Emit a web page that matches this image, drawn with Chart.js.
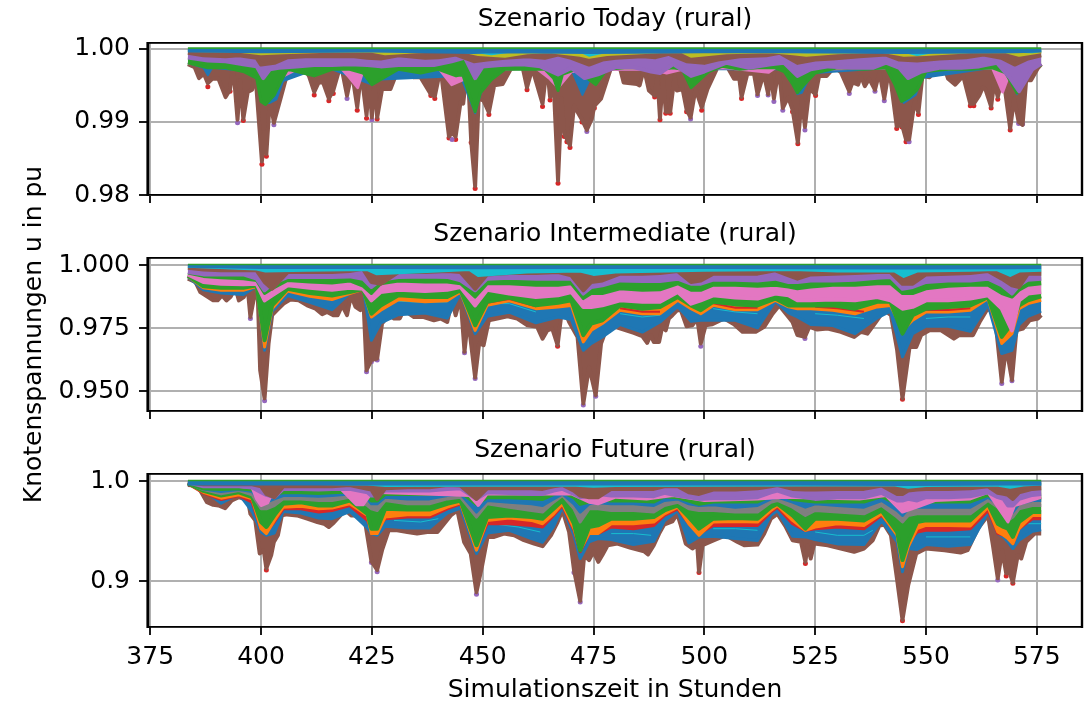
<!DOCTYPE html>
<html>
<head>
<meta charset="utf-8">
<title>Knotenspannungen rural</title>
<script src="https://cdn.jsdelivr.net/npm/chart.js@4"></script>
<style>
html, body { margin: 0; padding: 0; background: #fff; }
canvas { position: absolute; left: 0; top: 0; }
</style>
</head>
<body>
<canvas id="today" width="1091" height="703"></canvas>
<canvas id="intermediate" width="1091" height="703"></canvas>
<canvas id="future" width="1091" height="703"></canvas>
<script>
const xTicks = [375, 400, 425, 450, 475, 500, 525, 550, 575];
const yTicksToday = [0.98, 0.99, 1.00];
const yTicksIntermediate = [0.950, 0.975, 1.000];
const yTicksFuture = [0.9, 1.0];

// Szenario Today
const hoursTodayLow = [383.5,385,386,387.1,388,389,390.4,392,393,393.7,394.7,395.3,396,397,398,398.7,400.2,400.7,401.2,402,402.9,404.4,406,409.6,410.8,412,413,414,415.3,416.3,418,419.4,420.5,421.7,422.6,423.8,424.4,425,425.6,426.2,427.3,429.2,431,433,434.5,436,438.3,439.2,440.5,442.4,443.1,443.9,445,445.6,446.6,447.4,448.3,449.1,450.2,451.4,452.6,454.5,456.4,459,460,461.2,463.5,464.5,465.2,466.1,467,467.8,468.4,469.7,470.6,472.4,473.5,474.6,475.2,476.7,477.4,478.9,481,481.8,484.8,485.4,486.4,487.5,488.8,489.4,490,490.7,491.3,492.3,493.3,493.8,495.1,496,496.9,498,499.4,500.7,503,505.2,506.7,507.9,508.4,509.7,511.2,512,513.4,514.4,514.9,515.7,516.8,517.7,518.9,519.9,521.1,522,522.7,523.7,525.1,525.9,527.6,529.3,530.8,532.7,533.4,534.7,535.3,536.2,537.2,538.5,539.5,540.6,541.7,543.4,544.6,545.5,546.2,547.4,548.3,549.2,550.8,552.3,554.2,555,556.6,558.4,560,560.8,562,562.8,563.4,564.7,565.4,566.2,567.4,569,569.9,570.9,571.8,572.6,573.7,575.2,576];
const todayLow = [.9979,.9975,.9960,.9966,.9953,.9959,.9959,.9934,.9944,.9977,.9903,.9957,.9904,.9941,.9944,.9968,.9846,.9886,.9856,.9932,.9899,.9932,.9968,.9975,.9963,.9941,.9954,.9954,.9932,.9943,.9979,.9936,.9968,.9920,.9968,.9909,.9954,.9906,.9954,.9906,.9945,.9945,.9973,.9968,.9961,.9961,.9938,.9935,.9973,.9880,.9885,.9880,.9927,.9925,.9977,.9874,.9812,.9932,.9929,.9913,.9950,.9952,.9973,.9975,.9947,.9973,.9925,.9977,.9934,.9941,.9820,.9932,.9884,.9868,.9922,.9903,.9889,.9904,.9922,.9932,.9945,.9973,.9973,.9954,.9952,.9950,.9973,.9943,.9936,.9963,.9905,.9963,.9914,.9914,.9963,.9943,.9945,.9917,.9906,.9945,.9920,.9945,.9975,.9975,.9959,.9959,.9934,.9966,.9966,.9938,.9966,.9938,.9966,.9932,.9973,.9919,.9934,.9917,.9872,.9932,.9893,.9945,.9938,.9963,.9963,.9975,.9968,.9942,.9954,.9951,.9963,.9949,.9959,.9944,.9968,.9932,.9973,.9894,.9896,.9876,.9876,.9927,.9913,.9963,.9961,.9973,.9973,.9959,.9951,.9963,.9925,.9925,.9936,.9947,.9945,.9921,.9954,.9934,.9963,.9891,.9932,.9900,.9896,.9957,.9957,.9973,.9979];
const hoursTodayRedTips = [388,393,396,400.2,401.2,412,415.3,416.3,421.7,423.8,426.2,438.3,439.2,442.4,443.9,447.4,448.3,451.4,460,463.5,465.2,467,468.4,469,469.7,472.4,475.2,488.8,490,491.3,492.3,496,499.4,508.4,519.9,521.1,525.1,543.4,544.6,545.5,548.3,560,560.8,564.7,566.2,569];
const todayRedTips = [.9948,.9942,.9902,.9842,.9853,.9937,.9929,.9939,.9916,.9905,.9904,.9936,.9932,.9878,.9876,.9872,.9809,.9910,.9944,.9921,.9930,.9816,.9880,.9873,.9865,.9900,.9919,.9934,.9903,.9912,.9912,.9914,.9916,.9932,.9914,.9870,.9936,.9891,.9893,.9873,.9910,.9922,.9922,.9919,.9931,.9889];
const hoursTodayPurpleTips = [394.7,402.9,419.4,425,443.1,473.5,496.9,512,514.4,515.7,517.7,522.7,532.7,538.5,540.6,546.2,570.9,571.8];
const todayPurpleTips = [.9899,.9896,.9932,.9903,.9876,.9887,.9904,.9936,.9937,.9928,.9916,.9889,.9939,.9942,.9929,.9873,.9898,.9897];
const hoursTodayBlue = [383.5,387,388,389,396,399,400.5,402,403.5,405,410,415,416,425,427,445,448.3,449.5,451,455,470,472.5,474,476,478,519,521,522,523.5,525,542,545,547.7,549,565,569.5,570.5,572,576];
const todayBlue = [.9981,.9974,.9964,.9974,.9970,.9960,.9926,.9926,.9931,.9956,.9967,.9970,.9972,.9951,.9958,.9963,.9912,.9938,.9958,.9972,.9972,.9937,.9956,.9958,.9972,.9972,.9938,.9940,.9958,.9967,.9974,.9926,.9937,.9960,.9974,.9967,.9938,.9968,.9978];
const hoursTodayPink = [383.5,396,400,404,408,414,418,419.5,421.8,423,430,440,443,446,448,454,462,465,467,470,480,488,491.5,495,505,514.5,516,525,540,552,565,567.3,569,576];
const todayPink = [.9981,.9974,.9969,.9960,.9972,.9974,.9974,.9964,.9947,.9970,.9974,.9974,.9951,.9959,.9963,.9972,.9974,.9960,.9947,.9969,.9972,.9972,.9967,.9972,.9974,.9968,.9974,.9972,.9974,.9972,.9974,.9941,.9969,.9979];
const hoursTodayGreen = [383.5,388,392,396,399,400,401,403,404.5,406,412,416,420,423,425,427,431,436,440,444,445.5,447,448.3,449.5,452,455,460,464,466,467,468,471,474,475.5,478,482,486,490,493,495,497,499,501,504,508,512,516,518,520,521,522.5,525,530,536,541,543,544.5,546,548,550,555,560,565,568,570.5,572,576];
const todayGreen = [.9981,.9974,.9974,.9969,.9960,.9928,.9924,.9937,.9956,.9972,.9963,.9972,.9972,.9967,.9951,.9958,.9972,.9967,.9972,.9963,.9965,.9937,.9914,.9940,.9958,.9972,.9972,.9972,.9960,.9943,.9965,.9972,.9958,.9951,.9972,.9974,.9974,.9972,.9974,.9972,.9947,.9958,.9969,.9976,.9972,.9974,.9974,.9969,.9951,.9940,.9951,.9967,.9974,.9972,.9974,.9951,.9928,.9933,.9944,.9969,.9972,.9972,.9974,.9967,.9940,.9969,.9978];
const hoursTodayPurple = [383.5,388,392,396,399,400.5,402,404,408,412,416,420,424,427,431,435,439,443,446,448.3,450,454,459,463,467,470,473,476,480,484,488,490,493,497,500,505,510,515,518,521,524,528,533,538,541,544,546,549,553,558,562,566,569,571,574,576];
const todayPurple = [.9988,.9984,.9983,.9979,.9976,.9960,.9972,.9974,.9976,.9978,.9978,.9979,.9978,.9976,.9978,.9978,.9978,.9983,.9988,.9960,.9976,.9978,.9979,.9976,.9965,.9974,.9960,.9965,.9975,.9975,.9969,.9967,.9979,.9963,.9969,.9981,.9974,.9979,.9981,.9963,.9972,.9976,.9974,.9974,.9981,.9974,.9960,.9969,.9974,.9974,.9976,.9981,.9960,.9942,.9972,.9980];
const hoursTodayUpper = [383.5,387,392,395,399,400,403,406,410,414,418,421,424,427,431,437,440,444,448,451,455,460,464,467,470,474,477,480,486,489,492,496,500,503,508,514,517,521,525,529,535,541,544,548,553,559,563,567,570,573,576];
const todayUpper = [.99945,.99913,.99900,.99913,.99877,.99785,.99808,.99886,.99900,.99900,.99900,.99900,.99877,.99868,.99913,.99877,.99886,.99922,.99831,.99854,.99877,.99900,.99877,.99922,.99877,.99785,.99854,.99877,.99900,.99886,.99932,.99831,.99808,.99854,.99900,.99913,.99945,.99808,.99854,.99868,.99900,.99922,.99854,.99840,.99868,.99886,.99922,.99877,.99785,.99868,.99913];
const hoursTodayOlive = [383.5,395,400,405,415,425,428,435,445,449,455,460,465,472,474,478,490,495,497,505,515,520,523,530,540,545,550,560,568,571,576];
const todayOlive = [.99977,.99968,.99932,.99945,.99968,.99968,.99932,.99959,.99977,.99922,.99900,.99945,.99959,.99913,.99886,.99922,.99959,.99959,.99900,.99945,.99959,.99932,.99913,.99945,.99968,.99913,.99922,.99959,.99959,.99913,.99959];
const hoursTodayCyan = [383.5,420,448,452,456,472,474,478,500,519,523,545,548,552,570,574,576];
const todayCyan = [.99982,.99982,.99968,.99932,.99968,.99968,.99913,.99968,.99982,.99968,.99959,.99968,.99922,.99968,.99968,.99959,.99982];
const hoursTodayTop = [383.5,400,425,448,452,475,500,521,545,570,576];
const todayTop = [.9997,.9996,.9997,.9995,.9996,.9995,.9996,.9996,.9995,.9996,.9997];
const hoursTodayEdge = [383.5,576];
const todayEdge = [1.0001,1.0001];

// Szenario Intermediate
const hoursInterLow = [383.5,385.2,386.3,387.8,389.2,390.2,391.2,392.2,393.1,394.2,395,396.1,397,397.6,398.3,399.2,399.8,400.8,401.7,402.5,403.6,405.1,406.6,408.5,410.4,412.3,413.8,414.9,416.3,417.3,418.3,419.4,420.3,421.3,422.4,423,423.8,424.9,426.2,427.3,428.8,430,431.3,432.2,434.5,436.7,439,440.5,442,443.1,443.9,445,445.9,446.7,448.3,449.2,450.2,451.4,453.3,455.6,457.8,460.1,462.3,463.5,464.6,465.7,466.9,468,469.5,471.4,472.7,474,475.5,476.7,477.8,479.3,480.4,484.1,486,487.1,487.9,488.6,489.8,490.5,491.3,492,492.8,493.9,494.7,496,497.3,498.4,499.2,500.3,501.8,504.5,506.7,508.6,510.1,511.6,513.5,515.4,516.9,518.4,519.9,521,522.7,523.7,525.5,527.8,530.8,533.8,535.3,536.8,538.7,540.6,542.1,543.5,544.7,546.3,547.8,548.9,550.8,553.4,556.3,557.5,559,560.6,562.1,563.9,565.5,567.1,568.1,569.4,570.4,571.9,573.4,575.3,576];
const interLow = [.9946,.9933,.9893,.9876,.9860,.9860,.9880,.9860,.9873,.9910,.9860,.9873,.9906,.9794,.9860,.9913,.9583,.9471,.9689,.9801,.9821,.9847,.9863,.9860,.9840,.9827,.9805,.9814,.9801,.9801,.9840,.9801,.9880,.9834,.9821,.9900,.9583,.9623,.9629,.9768,.9801,.9788,.9788,.9821,.9794,.9794,.9781,.9788,.9774,.9860,.9801,.9873,.9656,.9788,.9554,.9689,.9682,.9781,.9788,.9797,.9788,.9761,.9755,.9708,.9741,.9748,.9682,.9840,.9774,.9715,.9451,.9596,.9484,.9689,.9741,.9755,.9752,.9731,.9718,.9691,.9722,.9695,.9695,.9755,.9741,.9788,.9801,.9821,.9821,.9757,.9761,.9788,.9689,.9761,.9765,.9788,.9765,.9735,.9735,.9735,.9755,.9807,.9840,.9807,.9774,.9722,.9715,.9755,.9744,.9748,.9735,.9715,.9735,.9728,.9774,.9821,.9801,.9662,.9471,.9675,.9675,.9722,.9741,.9741,.9708,.9722,.9722,.9722,.9774,.9827,.9807,.9537,.9675,.9544,.9741,.9748,.9781,.9788,.9801];
const hoursInterRedTips = [466.9,544.7];
const interRedTips = [.9678,.9468];
const hoursInterPurpleTips = [397.6,400.8,423.8,424.9,426.2,445.9,448.3,472.7,474,475.5,499.2,522.7,567.1,569.4];
const interPurpleTips = [.9788,.9462,.9577,.9616,.9623,.9652,.9550,.9445,.9590,.9480,.9678,.9709,.9530,.9541];
const hoursInterMid = [383.5,387,391,396,399,400.8,402.5,406,411,416,420,423,424.9,427,431,437,442,445,448.3,451,456,462,467,470,472.7,474.5,477,481,486,490,494,497,499.2,502,507,512,516,519,521,524,529,534,539,542,544.7,547,550,555,560,564,567.1,569.4,571,573,576];
const interBlue = [.9953,.9902,.9889,.9883,.9916,.9662,.9817,.9879,.9852,.9823,.9889,.9916,.9702,.9771,.9803,.9810,.9790,.9889,.9728,.9797,.9813,.9771,.9794,.9784,.9662,.9689,.9715,.9764,.9734,.9774,.9836,.9777,.9781,.9781,.9781,.9751,.9856,.9810,.9794,.9764,.9760,.9728,.9790,.9817,.9636,.9728,.9757,.9757,.9737,.9843,.9649,.9662,.9764,.9797,.9817];
const interOrange = [.9955,.9910,.9900,.9900,.9916,.9675,.9827,.9897,.9876,.9863,.9887,.9904,.9794,.9821,.9863,.9854,.9858,.9893,.9741,.9840,.9858,.9827,.9834,.9840,.9695,.9741,.9768,.9821,.9807,.9807,.9860,.9827,.9807,.9840,.9823,.9823,.9860,.9834,.9827,.9827,.9821,.9807,.9834,.9840,.9741,.9781,.9814,.9814,.9821,.9867,.9689,.9728,.9827,.9847,.9860];
const interGreenLow = [.9958,.9916,.9910,.9910,.9920,.9702,.9840,.9906,.9889,.9879,.9893,.9905,.9807,.9840,.9880,.9873,.9873,.9900,.9761,.9854,.9871,.9840,.9850,.9860,.9722,.9768,.9781,.9840,.9827,.9834,.9873,.9840,.9821,.9854,.9844,.9840,.9867,.9840,.9840,.9840,.9840,.9827,.9854,.9854,.9728,.9801,.9827,.9834,.9840,.9873,.9715,.9768,.9840,.9860,.9876];
const interPink = [.9963,.9933,.9926,.9924,.9926,.9860,.9880,.9920,.9910,.9902,.9910,.9906,.9860,.9893,.9902,.9897,.9902,.9913,.9840,.9902,.9887,.9873,.9880,.9893,.9834,.9834,.9840,.9860,.9854,.9854,.9893,.9847,.9860,.9880,.9871,.9867,.9887,.9880,.9860,.9860,.9863,.9860,.9873,.9860,.9827,.9834,.9860,.9860,.9867,.9880,.9827,.9741,.9860,.9887,.9893];
const interGreenHigh = [.9968,.9955,.9950,.9946,.9939,.9887,.9906,.9939,.9933,.9929,.9937,.9916,.9887,.9926,.9937,.9933,.9933,.9926,.9873,.9926,.9926,.9920,.9920,.9926,.9867,.9887,.9887,.9906,.9900,.9902,.9926,.9900,.9900,.9920,.9920,.9916,.9920,.9913,.9906,.9913,.9920,.9920,.9926,.9926,.9887,.9887,.9906,.9916,.9920,.9920,.9887,.9873,.9900,.9920,.9926];
const interPurple = [.9972,.9963,.9963,.9963,.9946,.9900,.9926,.9953,.9953,.9953,.9955,.9946,.9913,.9942,.9953,.9955,.9953,.9939,.9900,.9946,.9950,.9946,.9946,.9946,.9887,.9913,.9920,.9939,.9937,.9937,.9946,.9926,.9926,.9942,.9942,.9939,.9946,.9933,.9933,.9939,.9939,.9942,.9950,.9953,.9906,.9913,.9933,.9939,.9939,.9946,.9920,.9887,.9920,.9942,.9946];
const interUpper = [.9989,.9982,.9979,.9979,.9979,.9933,.9906,.9972,.9972,.9972,.9976,.9985,.9933,.9926,.9972,.9972,.9976,.9972,.9906,.9963,.9968,.9968,.9972,.9959,.9900,.9933,.9939,.9966,.9966,.9968,.9976,.9933,.9939,.9966,.9966,.9966,.9979,.9959,.9946,.9963,.9966,.9968,.9972,.9972,.9926,.9926,.9963,.9966,.9968,.9976,.9946,.9920,.9913,.9966,.9966];
const hoursInterCyan = [383.5,399,401,410,424,426,440,447,449,460,472,475,480,500,520,530,543,545,548,560,566,569,571,576];
const interCyan = [.9995,.9984,.9976,.9979,.9982,.9966,.9976,.9982,.9959,.9972,.9976,.9963,.9972,.9979,.9982,.9976,.9976,.9955,.9976,.9979,.9982,.9959,.9976,.9979];
const hoursInterTop = [383.5,400,425,448,472,500,521,545,569,576];
const interTop = [.9995,.9990,.9990,.9989,.9990,.9990,.9989,.9988,.9989,.9990];
const hoursInterEdge = [383.5,576];
const interEdge = [1.0002,1.0002];
// short thin pieces inside the bands, null breaks the line
const hoursInterThin = [405,411,416,417,428,434,442,443,451,456,462,463,481,486,490,491,502,507,512,513,525,530,536,537,550,555,560];
const interThinCyan = [.9910,.9893,.9876,null,.9860,.9854,.9854,null,.9847,.9847,.9814,null,.9807,.9794,.9801,null,.9827,.9814,.9807,null,.9807,.9801,.9788,null,.9788,.9794,.9794];
const hoursInterThinRed = [451,456,462,463,481,486,490,491,502,507,512,513,525,530,536,537,550,555,560];
const interThinRed = [.9850,.9865,.9836,null,.9829,.9815,.9815,null,.9848,.9831,.9831,null,.9835,.9829,.9815,null,.9822,.9822,.9829];

// Szenario Future
const hoursFutureLow = [383.5,385.2,386.3,387.8,389.2,390.4,391.9,393.4,395,396.1,397,397.6,398.7,399.7,400.6,401.2,402.3,402.9,403.8,404.7,405.9,408.1,410.4,412.7,414.2,415.3,416.4,417.9,419.1,420.3,421.7,423.6,424.9,426.2,427.3,428.8,430.7,433,435.2,437.5,439.8,441.3,442.8,444.3,445.8,447.3,448.6,449.9,451.1,452.6,454.8,457.1,459.3,461.6,463.5,465.4,466.9,468,469.5,470.6,472,472.9,474,475,476.1,477,478.2,480.4,483.4,486.4,487.3,488.6,489.8,490.9,492.8,493.9,494.7,495.8,497.3,498.4,498.8,499.6,502.2,504.8,507.5,509,512,513.5,515,516.5,518.4,519.9,521.8,522.8,523.3,524,524.8,527.8,530.8,533.8,536,538,539.5,540.6,542.1,543.5,544.7,546,547.8,550,554.2,557.8,559.4,561.7,564,565.1,566.2,567.2,568.1,568.8,569.6,570.7,571.5,572.6,574.5,576];
const futureLow = [.9960,.9954,.9904,.9788,.9762,.9755,.9729,.9805,.9838,.9821,.9821,.9672,.9606,.9275,.9308,.9126,.9259,.9391,.9457,.9656,.9666,.9656,.9623,.9590,.9573,.9540,.9583,.9656,.9705,.9656,.9656,.9556,.9199,.9110,.9308,.9507,.9507,.9490,.9474,.9490,.9490,.9573,.9656,.9705,.9391,.9275,.8888,.9159,.9441,.9441,.9474,.9457,.9408,.9374,.9348,.9457,.9590,.9705,.9490,.9110,.8802,.9259,.9209,.9292,.9192,.9259,.9358,.9374,.9331,.9298,.9265,.9358,.9474,.9563,.9596,.9672,.9556,.9374,.9325,.9358,.9093,.9358,.9408,.9457,.9391,.9358,.9364,.9474,.9623,.9672,.9540,.9408,.9391,.9192,.9358,.9225,.9374,.9358,.9325,.9292,.9325,.9408,.9556,.9563,.9457,.9010,.8613,.8961,.9275,.9325,.9308,.9285,.9308,.9523,.9656,.9358,.9027,.9308,.9077,.9093,.8987,.9259,.9225,.9391,.9474,.9474];
const hoursFutureRedTips = [401.2,498.8,522.8,544.7,568.1,569.6];
const futureRedTips = [.9110,.9086,.9176,.8603,.9050,.8977];
const hoursFuturePurpleTips = [424.9,426.2,448.6,470.6,472,566.2];
const futurePurpleTips = [.9186,.9093,.8868,.9086,.8789,.9010];
const hoursFutureMid = [383.5,387,391,395,398,400,401.2,403,405,409,413,416,420,424,424.9,426.2,428,433,438,442,445,448.6,451,456,461,463.5,466,468,470.6,472,474,476,479,484,488.6,491,494,496.5,498.8,502,507,512,515,516.5,519.9,522.8,525,530,536,540,543.5,544.7,546,548,550,555,560,564,566.2,567.5,568.5,569.6,571,574,576];
const futureBlue = [.9970,.9911,.9778,.9871,.9695,.9490,.9457,.9480,.9695,.9679,.9629,.9623,.9695,.9530,.9474,.9457,.9547,.9530,.9530,.9679,.9729,.9275,.9480,.9507,.9424,.9388,.9547,.9738,.9457,.9225,.9391,.9424,.9414,.9364,.9398,.9603,.9705,.9381,.9441,.9447,.9424,.9404,.9656,.9705,.9447,.9441,.9414,.9371,.9364,.9603,.9391,.9093,.9325,.9315,.9364,.9348,.9364,.9689,.9474,.9441,.9391,.9325,.9408,.9497,.9513];
const futureRed = [.9974,.9881,.9815,.9854,.9788,.9523,.9490,.9590,.9722,.9722,.9689,.9705,.9755,.9606,.9523,.9523,.9623,.9639,.9639,.9722,.9772,.9325,.9573,.9573,.9556,.9540,.9656,.9755,.9507,.9292,.9474,.9474,.9540,.9523,.9556,.9656,.9722,.9573,.9474,.9556,.9556,.9556,.9689,.9738,.9573,.9507,.9523,.9540,.9523,.9656,.9474,.9192,.9391,.9490,.9507,.9507,.9523,.9705,.9474,.9457,.9441,.9374,.9523,.9623,.9623];
const futureOrange = [.9977,.9887,.9828,.9861,.9821,.9523,.9474,.9606,.9738,.9748,.9722,.9729,.9772,.9656,.9474,.9474,.9639,.9662,.9662,.9738,.9782,.9308,.9606,.9629,.9606,.9573,.9672,.9772,.9523,.9308,.9474,.9474,.9573,.9573,.9590,.9672,.9738,.9573,.9457,.9590,.9596,.9590,.9705,.9755,.9606,.9507,.9540,.9573,.9556,.9672,.9457,.9143,.9341,.9523,.9556,.9556,.9550,.9738,.9490,.9457,.9424,.9374,.9523,.9656,.9656];
const futureGreenLow = [.9977,.9901,.9854,.9887,.9838,.9590,.9540,.9656,.9772,.9788,.9755,.9755,.9805,.9672,.9523,.9523,.9722,.9715,.9715,.9772,.9805,.9358,.9639,.9656,.9639,.9623,.9722,.9805,.9573,.9308,.9540,.9556,.9623,.9623,.9639,.9705,.9755,.9639,.9523,.9623,.9629,.9623,.9738,.9772,.9656,.9523,.9623,.9623,.9606,.9705,.9490,.9209,.9391,.9590,.9606,.9606,.9606,.9772,.9573,.9540,.9523,.9441,.9590,.9689,.9689];
const futureGray = [.9980,.9914,.9871,.9904,.9861,.9722,.9722,.9755,.9821,.9821,.9805,.9805,.9838,.9755,.9722,.9705,.9805,.9772,.9772,.9821,.9838,.9639,.9772,.9738,.9705,.9689,.9788,.9854,.9722,.9590,.9722,.9722,.9705,.9705,.9689,.9755,.9788,.9722,.9705,.9705,.9689,.9689,.9788,.9805,.9738,.9656,.9705,.9689,.9672,.9755,.9639,.9590,.9656,.9672,.9672,.9672,.9672,.9805,.9738,.9672,.9606,.9639,.9722,.9755,.9755];
const futureBlueHigh = [.9980,.9921,.9894,.9914,.9894,.9788,.9788,.9821,.9854,.9854,.9848,.9854,.9871,.9821,.9772,.9772,.9838,.9821,.9821,.9854,.9871,.9689,.9805,.9788,.9772,.9755,.9821,.9871,.9772,.9689,.9772,.9782,.9772,.9772,.9755,.9805,.9821,.9772,.9755,.9762,.9738,.9755,.9821,.9838,.9788,.9738,.9772,.9755,.9738,.9805,.9705,.9656,.9722,.9738,.9738,.9738,.9738,.9838,.9772,.9738,.9689,.9689,.9772,.9805,.9805];
const futureGreenHigh = [.9980,.9927,.9921,.9927,.9914,.9871,.9838,.9871,.9887,.9887,.9881,.9887,.9894,.9854,.9805,.9805,.9871,.9871,.9871,.9887,.9894,.9772,.9838,.9838,.9828,.9821,.9871,.9894,.9838,.9772,.9795,.9821,.9805,.9805,.9795,.9848,.9838,.9805,.9772,.9795,.9795,.9795,.9854,.9871,.9821,.9805,.9795,.9795,.9795,.9848,.9772,.9722,.9755,.9772,.9795,.9795,.9795,.9861,.9805,.9772,.9755,.9738,.9788,.9828,.9838];
const hoursFuturePink = [383.5,398,399,400,401.5,403,418,421.5,423,425,447,449,451,470,474,476,480,487,493,500,512,518,535,541,544.7,548,552,560,564,568.5,570,576];
const futurePink = [.9987,.9934,.9821,.9755,.9782,.9921,.9921,.9762,.9762,.9887,.9854,.9755,.9871,.9871,.9788,.9772,.9838,.9821,.9854,.9805,.9821,.9838,.9821,.9854,.9689,.9738,.9805,.9821,.9887,.9590,.9755,.9838];
const futurePurple = [.9987,.9947,.9947,.9947,.9934,.9887,.9861,.9838,.9921,.9921,.9914,.9921,.9921,.9887,.9854,.9854,.9904,.9904,.9904,.9921,.9927,.9821,.9887,.9881,.9871,.9871,.9904,.9921,.9871,.9838,.9854,.9871,.9854,.9854,.9848,.9881,.9854,.9838,.9821,.9828,.9828,.9838,.9887,.9904,.9854,.9838,.9821,.9838,.9838,.9881,.9805,.9805,.9821,.9805,.9838,.9838,.9848,.9887,.9838,.9821,.9755,.9755,.9821,.9861,.9871];
const futureUpper = [.9987,.9967,.9967,.9970,.9967,.9947,.9871,.9838,.9947,.9947,.9947,.9947,.9960,.9921,.9914,.9821,.9927,.9937,.9937,.9960,.9954,.9821,.9927,.9927,.9927,.9921,.9947,.9960,.9904,.9854,.9838,.9838,.9921,.9921,.9921,.9947,.9947,.9887,.9871,.9914,.9914,.9927,.9947,.9960,.9921,.9914,.9914,.9921,.9921,.9954,.9871,.9871,.9904,.9914,.9921,.9921,.9927,.9947,.9881,.9871,.9861,.9821,.9887,.9921,.9927];
const hoursFutureCyan = [383.5,424,428,470,475,480,525,543,546,550,566,569,572,576];
const futureCyan = [.9987,.9970,.9954,.9960,.9947,.9954,.9960,.9960,.9937,.9954,.9960,.9937,.9960,.9970];
const hoursFutureTop = [383.5,400,425,448,472,500,521,545,568,576];
const futureTop = [.9970,.9970,.9970,.9970,.9970,.9970,.9970,.9965,.9970,.9970];
const hoursFutureEdge = [383.5,576];
const futureEdge = [1.0006,1.0006];
const hoursFutureThin = [430,436,440,441,452,458,463,464,479,484,488,489,502,507,512,513,525,530,536,538,539,550,555,560,561,571,576];
const futureThinCyan = [.9606,.9590,.9623,null,.9573,.9540,.9490,null,.9474,.9474,.9457,null,.9523,.9523,.9507,null,.9490,.9457,.9457,.9507,null,.9441,.9441,.9441,null,.9573,.9573];

const BLUE = '#1f77b4', ORANGE = '#ff7f0e', GREEN = '#2ca02c', RED = '#d62728', PURPLE = '#9467bd',
      BROWN = '#8c564b', PINK = '#e377c2', GRAY = '#7f7f7f', OLIVE = '#bcbd22', CYAN = '#17becf';
const FONT = 'DejaVu Sans';
const FONT_SIZE = 25;

function pairs(hours, values){
    return hours.map((h, i) => ({x: h, y: values[i]}));
}

// every band is painted up to 1.0, deeper bands first
function band(hours, values, color, width){
    return {
        data: pairs(hours, values),
        borderColor: color,
        backgroundColor: color,
        borderWidth: width,
        borderJoinStyle: 'round',
        pointRadius: 0,
        tension: 0,
        fill: {value: 1}
    };
}

function thin(hours, values, color, width){
    return {
        data: pairs(hours, values),
        borderColor: color,
        borderWidth: width,
        pointRadius: 0,
        tension: 0,
        spanGaps: false,
        fill: false
    };
}

function tips(hours, values, color){
    return {
        data: pairs(hours, values),
        showLine: false,
        borderColor: color,
        backgroundColor: color,
        pointRadius: 2.5,
        pointBorderWidth: 0,
        fill: false
    };
}

const framePlugin = {
    id: 'frame',
    afterDatasetsDraw(chart){
        const a = chart.chartArea, c = chart.ctx;
        c.save();
        c.fillStyle = '#000';
        c.fillRect(a.left - 1, a.top - 1, a.width + 2, 1.8);
        c.fillRect(a.left - 1, a.bottom - 1, a.width + 2, 1.8);
        c.fillRect(a.left - 1.6, a.top - 1, 2.8, a.height + 2);
        c.fillRect(a.right - 1.2, a.top - 1, 2.4, a.height + 2);
        c.restore();
    }
};

function panel(id, cfg){
    // chart.js draws the first dataset on top, the lists below are bottom first
    const datasets = cfg.layers.slice().reverse();
    new Chart(id, {
        type: 'line',
        data: {datasets: datasets},
        plugins: [framePlugin],
        options: {
            responsive: false,
            animation: false,
            layout: {padding: {top: cfg.top - 43, right: 9, left: 0, bottom: 0}},
            plugins: {
                legend: {display: false},
                tooltip: {enabled: false},
                title: {
                    display: true,
                    text: cfg.title,
                    fullSize: false,
                    color: '#000',
                    font: {family: FONT, size: FONT_SIZE, weight: 'normal'},
                    padding: {top: 4, bottom: 9}
                }
            },
            scales: {
                x: {
                    type: 'linear',
                    min: 374.5,
                    max: 585.2,
                    afterBuildTicks: s => { s.ticks = xTicks.map(v => ({value: v})); },
                    afterFit: s => { s.height = 703 - cfg.bottom; },
                    border: {display: false},
                    grid: {color: '#b0b0b0', lineWidth: 2, tickColor: '#000', tickWidth: 1.8, tickLength: 8},
                    ticks: {
                        autoSkip: false,
                        maxRotation: 0,
                        color: '#000',
                        padding: 7,
                        font: {family: FONT, size: FONT_SIZE},
                        callback: v => cfg.showX ? String(v) : ''
                    },
                    title: {
                        display: !!cfg.xTitle,
                        text: cfg.xTitle,
                        color: '#000',
                        font: {family: FONT, size: FONT_SIZE, lineHeight: 1},
                        padding: {top: 0, bottom: 0}
                    }
                },
                y: {
                    min: cfg.min,
                    max: cfg.max,
                    afterBuildTicks: s => { s.ticks = cfg.yTicks.map(v => ({value: v})); },
                    afterFit: s => { s.width = 148; },
                    border: {display: false},
                    grid: {color: '#b0b0b0', lineWidth: 2, tickColor: '#000', tickWidth: 1.8, tickLength: 9},
                    ticks: {
                        color: '#000',
                        padding: 9,
                        font: {family: FONT, size: FONT_SIZE},
                        callback: v => v.toFixed(cfg.digits)
                    },
                    title: {
                        display: !!cfg.yTitle,
                        text: cfg.yTitle,
                        color: '#000',
                        font: {family: FONT, size: FONT_SIZE},
                        padding: {top: 19, bottom: 0}
                    }
                }
            }
        }
    });
}

panel('today', {
    title: 'Szenario Today (rural)',
    top: 43, bottom: 195, min: 0.98, max: 1.0008, digits: 2, yTicks: yTicksToday,
    layers: [
        tips(hoursTodayRedTips, todayRedTips, RED),
        tips(hoursTodayPurpleTips, todayPurpleTips, PURPLE),
        band(hoursTodayLow, todayLow, BROWN, 4),
        band(hoursTodayBlue, todayBlue, BLUE, 2),
        band(hoursTodayPink, todayPink, PINK, 3),
        band(hoursTodayGreen, todayGreen, GREEN, 3),
        band(hoursTodayPurple, todayPurple, PURPLE, 4),
        band(hoursTodayUpper, todayUpper, BROWN, 4),
        band(hoursTodayOlive, todayOlive, OLIVE, 3),
        band(hoursTodayCyan, todayCyan, CYAN, 3),
        band(hoursTodayTop, todayTop, BLUE, 3),
        band(hoursTodayEdge, todayEdge, GREEN, 1.5)
    ]
});

panel('intermediate', {
    title: 'Szenario Intermediate (rural)',
    yTitle: 'Knotenspannungen u in pu',
    top: 258, bottom: 411, min: 0.9421, max: 1.0028, digits: 3, yTicks: yTicksIntermediate,
    layers: [
        tips(hoursInterRedTips, interRedTips, RED),
        tips(hoursInterPurpleTips, interPurpleTips, PURPLE),
        band(hoursInterLow, interLow, BROWN, 4),
        band(hoursInterMid, interBlue, BLUE, 3),
        thin(hoursInterThin, interThinCyan, CYAN, 1),
        band(hoursInterMid, interOrange, ORANGE, 3),
        thin(hoursInterThinRed, interThinRed, RED, 2),
        band(hoursInterMid, interGreenLow, GREEN, 4),
        band(hoursInterMid, interPink, PINK, 4),
        band(hoursInterMid, interGreenHigh, GREEN, 3),
        band(hoursInterMid, interPurple, PURPLE, 4),
        band(hoursInterMid, interUpper, BROWN, 4),
        band(hoursInterCyan, interCyan, CYAN, 3),
        band(hoursInterTop, interTop, BLUE, 3),
        band(hoursInterEdge, interEdge, GREEN, 1.5)
    ]
});

panel('future', {
    title: 'Szenario Future (rural)',
    xTitle: 'Simulationszeit in Stunden',
    showX: true,
    top: 474, bottom: 627, min: 0.854, max: 1.007, digits: 1, yTicks: yTicksFuture,
    layers: [
        tips(hoursFutureRedTips, futureRedTips, RED),
        tips(hoursFuturePurpleTips, futurePurpleTips, PURPLE),
        band(hoursFutureLow, futureLow, BROWN, 4),
        band(hoursFutureMid, futureBlue, BLUE, 3),
        thin(hoursFutureThin, futureThinCyan, CYAN, 1),
        band(hoursFutureMid, futureRed, RED, 3),
        band(hoursFutureMid, futureOrange, ORANGE, 3),
        band(hoursFutureMid, futureGreenLow, GREEN, 4),
        band(hoursFutureMid, futureGray, GRAY, 3),
        band(hoursFutureMid, futureBlueHigh, BLUE, 3),
        band(hoursFutureMid, futureGreenHigh, GREEN, 4),
        band(hoursFuturePink, futurePink, PINK, 3),
        band(hoursFutureMid, futurePurple, PURPLE, 4),
        band(hoursFutureMid, futureUpper, BROWN, 4),
        band(hoursFutureCyan, futureCyan, CYAN, 3),
        band(hoursFutureTop, futureTop, BLUE, 3),
        band(hoursFutureEdge, futureEdge, GREEN, 1.5)
    ]
});
</script>
</body>
</html>
